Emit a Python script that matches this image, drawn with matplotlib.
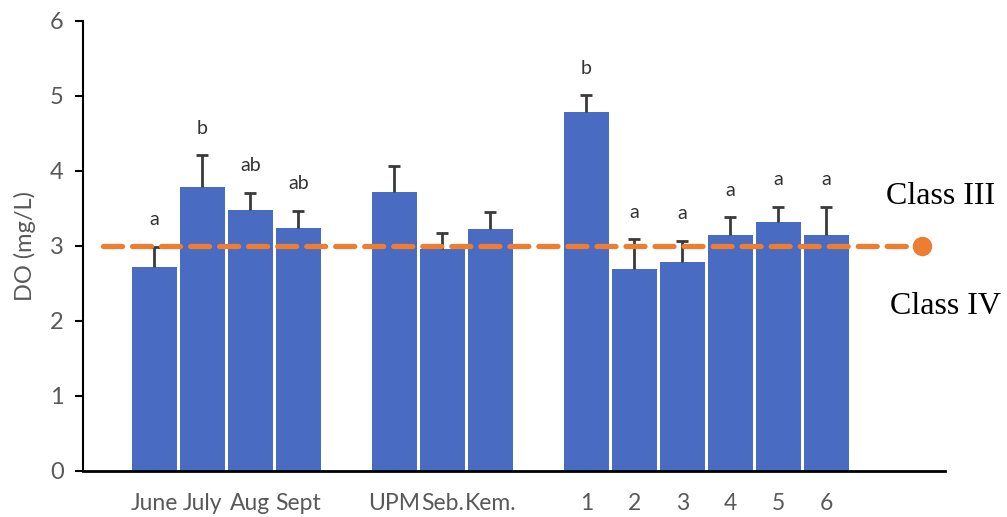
import numpy as np
import matplotlib.pyplot as plt

# DO means per group, upper SD and letters
labels = ['June', 'July', 'Aug', 'Sept', 'UPM', 'Seb.', 'Kem.', '1', '2', '3', '4', '5', '6']
slots = [0, 1, 2, 3, 5, 6, 7, 9, 10, 11, 12, 13, 14]
do_mean = [2.72, 3.79, 3.48, 3.24, 3.72, 2.96, 3.22, 4.79, 2.69, 2.78, 3.14, 3.32, 3.15]
do_err = [0.27, 0.42, 0.23, 0.23, 0.35, 0.21, 0.23, 0.22, 0.40, 0.29, 0.24, 0.20, 0.37]
letters = ['a', 'b', 'ab', 'ab', '', '', '', 'b', 'a', 'a', 'a', 'a', 'a']
class_limit = 3.0

plt.rcParams['font.family'] = ['Lato', 'DejaVu Sans']

fig = plt.figure(figsize=(10.07, 5.17), dpi=100)
ax = fig.add_axes([0.0824, 0.089, 0.8556, 0.8704])

x = np.array(slots, dtype=float)
lo = np.zeros(len(do_err))
ax.bar(x, do_mean, width=0.94, color='#4A6BC2', zorder=2)
eb = ax.errorbar(x, do_mean, yerr=[lo, do_err], fmt='none', ecolor='#3a3a3a',
                 elinewidth=2, capsize=4.5, capthick=2, zorder=3)
# only the upper cap is wanted
eb[1][0].set_visible(False)

for xi, m_, e, let in zip(x, do_mean, do_err, letters):
    if let:
        ax.text(xi, m_ + e + 0.36, let, ha='center', va='center',
                fontsize=14, color='#333333')

# class III / IV boundary
ax.plot([-1.07, 15.99], [class_limit, class_limit], color='#ED7D31', lw=3.8,
        dashes=(3.6, 1.9), dash_capstyle='round', zorder=4, clip_on=False)
ax.plot([15.99], [class_limit], 'o', color='#ED7D31', ms=13, zorder=4, clip_on=False)

ax.set_xlim(-1.49, 16.46)
ax.set_ylim(0, 6)
ax.set_xticks(x)
ax.set_xticklabels(labels, fontsize=16.5, color='#595959')
ax.tick_params(axis='x', length=0, pad=16)
ax.set_yticks(range(0, 7))
ax.tick_params(axis='y', direction='out', length=6, width=1.5, colors='black',
               labelcolor='#595959', labelsize=17, pad=8)
ax.set_ylabel('DO (mg/L)', fontsize=17, color='#595959', labelpad=10)

for s in ['top', 'right']:
    ax.spines[s].set_visible(False)
ax.spines['left'].set_linewidth(1.5)
ax.spines['bottom'].set_linewidth(2)

fig.text(0.880, 0.619, 'Class III', fontsize=23, family='Liberation Serif', va='center')
fig.text(0.884, 0.408, 'Class IV', fontsize=23, family='Liberation Serif', va='center')

fig.savefig('out.png', dpi=100)
